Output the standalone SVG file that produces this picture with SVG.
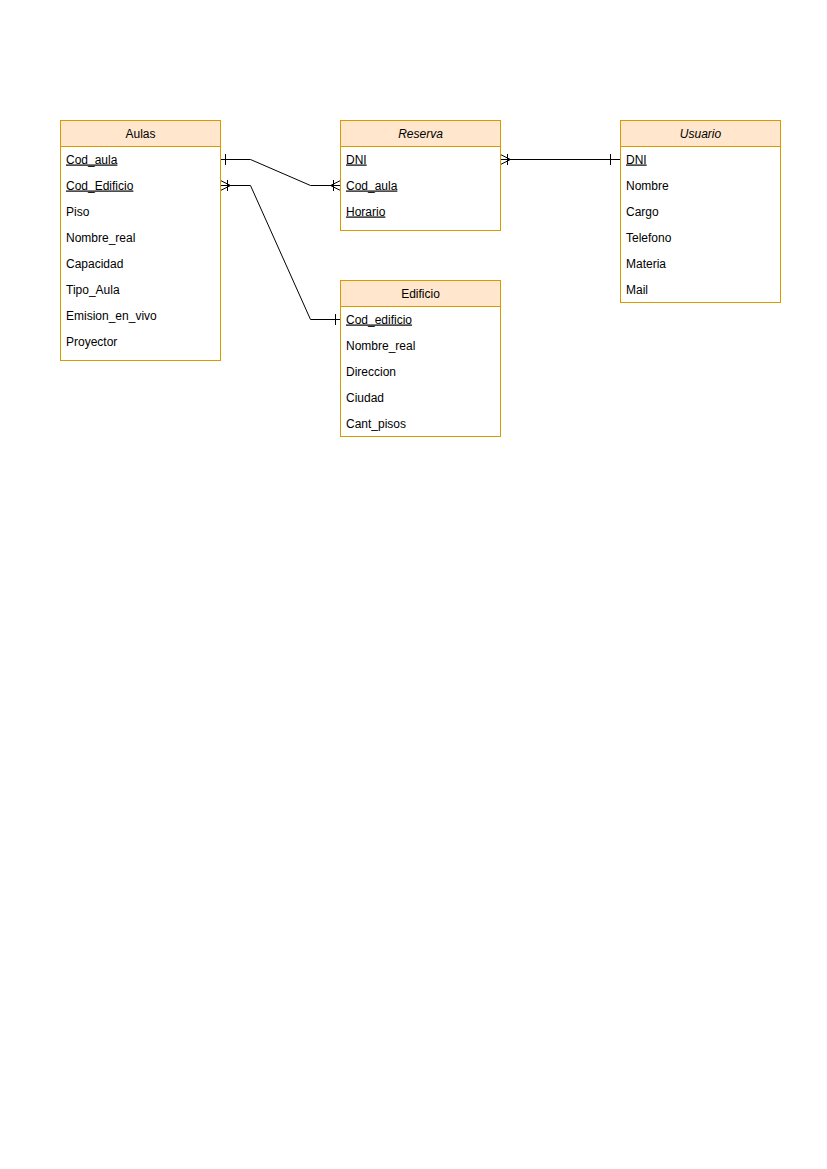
<svg xmlns="http://www.w3.org/2000/svg" width="827" height="1169" viewBox="0 0 827 1169">
<style>
.box{fill:#ffffff;stroke:#d79b00;stroke-width:1}
.hdr{fill:#ffe6cc;stroke:#d79b00;stroke-width:1}
text{font-family:"Liberation Sans",Arial,sans-serif;font-size:12px;fill:#000}
.t{text-anchor:middle}
.i{font-style:italic}
.u{text-decoration:underline}
.c{fill:none;stroke:#000;stroke-width:1}
</style>
<rect width="827" height="1169" fill="#ffffff"/>
<g id="connectors">
  <path class="c" d="M220.5 159.5 H250.5 L310.5 185.5 H340.5"/>
  <path class="c" d="M225.5 154 V165"/>
  <path class="c" d="M340.5 180.5 L330.5 185.5 L340.5 190.5 M333.5 180 V191"/>
  <path class="c" d="M220.5 185.5 H250.5 L310.5 319.5 H340.5"/>
  <path class="c" d="M220.5 180.5 L230.5 185.5 L220.5 190.5 M227.5 180 V191"/>
  <path class="c" d="M335.5 314 V325"/>
  <path class="c" d="M500.5 159.5 H620.5"/>
  <path class="c" d="M500.5 154.5 L510.5 159.5 L500.5 164.5 M507.5 154 V165"/>
  <path class="c" d="M610.5 154 V165"/>
</g>
<g id="Aulas">
  <rect class="box" x="60.5" y="120.5" width="160" height="240"/>
  <rect class="hdr" x="60.5" y="120.5" width="160" height="26"/>
  <text class="t" x="140.5" y="137.5">Aulas</text>
  <text class="u" x="66" y="163.5">Cod_aula</text>
  <text class="u" x="66" y="189.5">Cod_Edificio</text>
  <text x="66" y="215.5">Piso</text>
  <text x="66" y="241.5">Nombre_real</text>
  <text x="66" y="267.5">Capacidad</text>
  <text x="66" y="293.5">Tipo_Aula</text>
  <text x="66" y="319.5">Emision_en_vivo</text>
  <text x="66" y="345.5">Proyector</text>
</g>
<g id="Reserva">
  <rect class="box" x="340.5" y="120.5" width="160" height="110"/>
  <rect class="hdr" x="340.5" y="120.5" width="160" height="26"/>
  <text class="t i" x="420.5" y="137.5">Reserva</text>
  <text class="u" x="346" y="163.5">DNI</text>
  <text class="u" x="346" y="189.5">Cod_aula</text>
  <text class="u" x="346" y="215.5">Horario</text>
</g>
<g id="Usuario">
  <rect class="box" x="620.5" y="120.5" width="160" height="182"/>
  <rect class="hdr" x="620.5" y="120.5" width="160" height="26"/>
  <text class="t i" x="700.5" y="137.5">Usuario</text>
  <text class="u" x="626" y="163.5">DNI</text>
  <text x="626" y="189.5">Nombre</text>
  <text x="626" y="215.5">Cargo</text>
  <text x="626" y="241.5">Telefono</text>
  <text x="626" y="267.5">Materia</text>
  <text x="626" y="293.5">Mail</text>
</g>
<g id="Edificio">
  <rect class="box" x="340.5" y="280.5" width="160" height="156"/>
  <rect class="hdr" x="340.5" y="280.5" width="160" height="26"/>
  <text class="t" x="420.5" y="297.5">Edificio</text>
  <text class="u" x="346" y="323.5">Cod_edificio</text>
  <text x="346" y="349.5">Nombre_real</text>
  <text x="346" y="375.5">Direccion</text>
  <text x="346" y="401.5">Ciudad</text>
  <text x="346" y="427.5">Cant_pisos</text>
</g>
</svg>
